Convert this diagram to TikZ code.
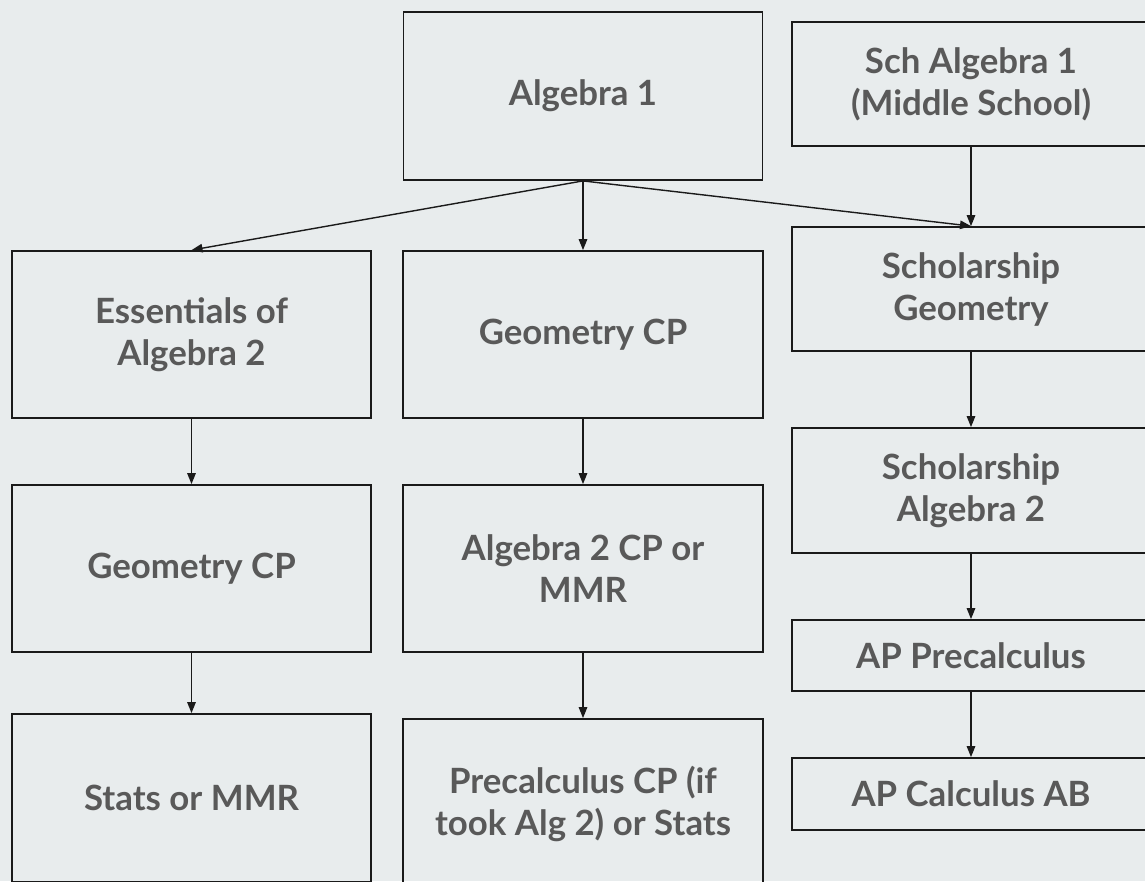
\documentclass[tikz,border=0pt]{standalone}
\usepackage{fontspec}
\setmainfont{Lato}
\usetikzlibrary{arrows.meta}
\definecolor{bgc}{HTML}{E8ECED}
\definecolor{txtc}{HTML}{595959}
\definecolor{linec}{HTML}{1A1A1A}
\tikzset{
  box/.style={draw=linec, line width=1.8pt, rectangle, inner sep=0pt, align=center,
    text=txtc, font=\fontsize{34.8}{42}\selectfont\bfseries},
  arr/.style={draw=linec, line width=1.4pt, -{Triangle[length=11pt,width=8.5pt]}}
}
\begin{document}
\begin{tikzpicture}[x=1pt,y=-1pt]
\useasboundingbox (0,0) rectangle (1145,881);
\fill[bgc] (0,0) rectangle (1145,881);
\clip (0,0) rectangle (1145,881);
\node[box, minimum width=359pt, minimum height=168pt] (A1) at (583,96) {Algebra 1};
\node[box, minimum width=358pt, minimum height=124pt] (SA1) at (971,84) {Sch Algebra 1\\(Middle School)};
\node[box, minimum width=359pt, minimum height=167pt] (E) at (191.5,334.5) {Essentials of\\Algebra 2};
\node[box, minimum width=360pt, minimum height=167pt] (G1) at (583,334.5) {Geometry CP};
\node[box, minimum width=358pt, minimum height=124pt] (SG) at (971,289) {Scholarship\\Geometry};
\node[box, minimum width=359pt, minimum height=167pt] (G2) at (191.5,568.5) {Geometry CP};
\node[box, minimum width=360pt, minimum height=167pt] (A2) at (583,568.5) {Algebra 2 CP or\\MMR};
\node[box, minimum width=358pt, minimum height=125pt] (SA2) at (971,490.5) {Scholarship\\Algebra 2};
\node[box, minimum width=358pt, minimum height=71pt] (P) at (971,655.5) {AP Precalculus};
\node[box, minimum width=358pt, minimum height=72pt] (C) at (971,794) {AP Calculus AB};
\node[box, minimum width=359pt, minimum height=168pt] (S) at (191.5,798) {Stats or MMR};
\node[box, minimum width=360pt, minimum height=170pt] (PC) at (583,804) {Precalculus CP (if\\took Alg 2) or Stats};
\draw[arr] (A1.south) -- (E.north);
\draw[arr] (A1.south) -- (G1.north);
\draw[arr] (A1.south) -- (SG.north);
\draw[arr] (SA1.south) -- (SG.north);
\draw[arr] (E.south) -- (G2.north);
\draw[arr] (G2.south) -- (S.north);
\draw[arr] (G1.south) -- (A2.north);
\draw[arr] (A2.south) -- (PC.north);
\draw[arr] (SG.south) -- (SA2.north);
\draw[arr] (SA2.south) -- (P.north);
\draw[arr] (P.south) -- (C.north);
\end{tikzpicture}
\end{document}
